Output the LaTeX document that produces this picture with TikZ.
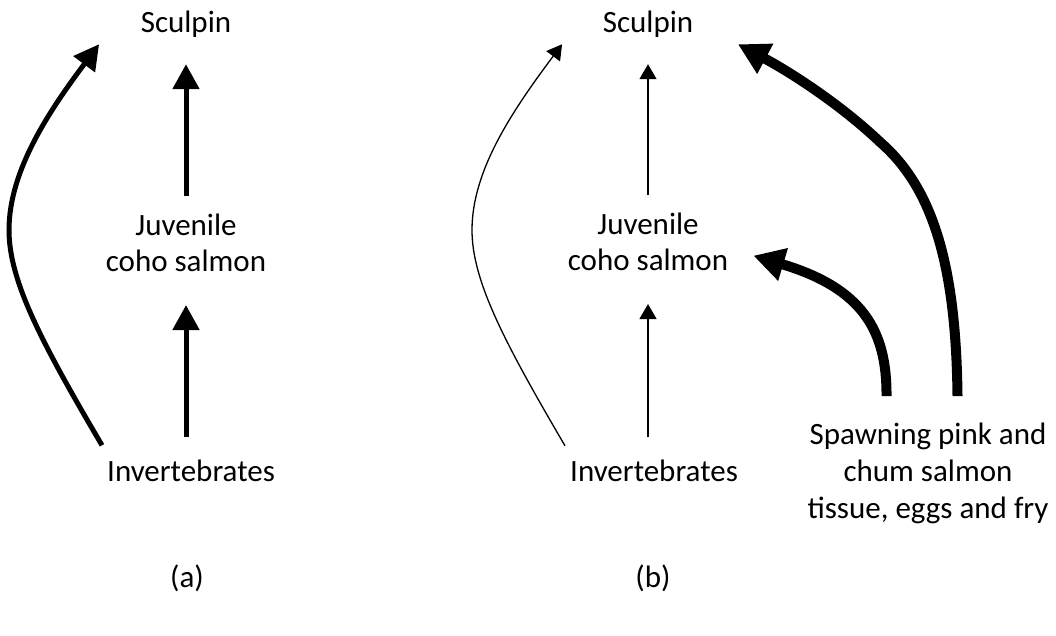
\documentclass[tikz,border=0pt]{standalone}
\usepackage{fontspec}
\setmainfont{Carlito}
\usetikzlibrary{arrows.meta}
\begin{document}
\begin{tikzpicture}[x=1pt,y=-1pt,
  lbl/.style={anchor=base,inner sep=0pt,align=center,font=\fontsize{31}{36.6}\selectfont},
  arrA/.style={line width=5pt,-{Triangle[length=25pt,width=26pt]}},
  arrThin/.style={line width=1.3pt,-{Triangle[length=15pt,width=17pt]}},
  arrThick/.style={line width=10pt,-{Triangle[length=31pt,width=32pt]}}]
\useasboundingbox (0,0) rectangle (1056,635);
% panel (a)
\node[lbl] (sculA) at (186,32) {Sculpin};
\node[lbl] (juvA) at (186,271.6) {Juvenile\\coho salmon};
\node[lbl] (invA) at (191,481) {Invertebrates};
\node[lbl] (labA) at (187,587) {(a)};
% panel (b)
\node[lbl] (sculB) at (648,32) {Sculpin};
\node[lbl] (juvB) at (648,270.6) {Juvenile\\coho salmon};
\node[lbl] (invB) at (654,481) {Invertebrates};
\node[lbl] (spawn) at (928,518) {Spawning pink and\\chum salmon\\tissue, eggs and fry};
\node[lbl] (labB) at (653,587) {(b)};
% arrows (a)
\draw[arrA] ([yshift=17pt]juvA.north) -- ([yshift=-27pt]sculA.south);
\draw[arrA] ([xshift=-5pt,yshift=22pt]invA.north) -- ([yshift=-33pt]juvA.south);
\draw[arrA] ([shift={(-5,-14)}]invA.north west) .. controls (40,340) and (9,280) .. (9,230)
  .. controls (9,170) and (50,110) .. ([shift={(-41.5,20.5)}]sculA.west);
% arrows (b)
\draw[arrThin] ([yshift=17pt]juvB.north) -- ([yshift=-27pt]sculB.south);
\draw[arrThin] ([xshift=-6pt,yshift=22pt]invB.north) -- ([yshift=-33pt]juvB.south);
\draw[arrThin] ([shift={(-5,-13.5)}]invB.north west) .. controls (503,340) and (472,280) .. (472,230)
  .. controls (472,170) and (513,110) .. ([shift={(-40.5,20.5)}]sculB.west);
\draw[arrThick] ([shift={(-41.5,-27)}]spawn.north) .. controls (887,330) and (862,288) .. ([shift={(25,14)}]juvB.east);
\draw[arrThick] ([shift={(29.5,-27)}]spawn.north) .. controls (956,265) and (933,188) .. (880,142)
  .. controls (840,104) and (790,72) .. ([shift={(44.5,20.5)}]sculB.east);
\end{tikzpicture}
\end{document}
